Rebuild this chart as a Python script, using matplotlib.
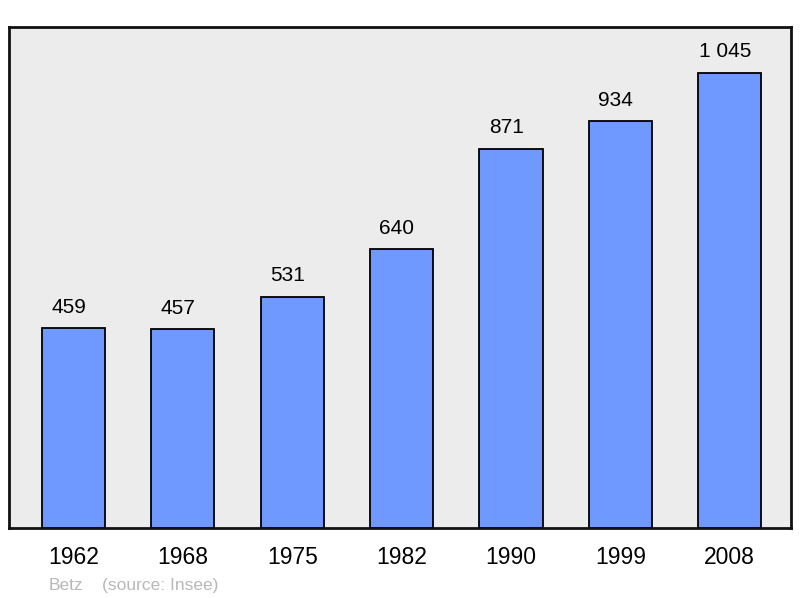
import matplotlib
matplotlib.use("Agg")
import matplotlib.pyplot as plt

plt.rcParams['font.family'] = ['Liberation Sans', 'DejaVu Sans']

years = ["1962", "1968", "1975", "1982", "1990", "1999", "2008"]
population = [459, 457, 531, 640, 871, 934, 1045]
value_labels = ["459", "457", "531", "640", "871", "934", "1 045"]

fig = plt.figure(figsize=(8, 5.98), dpi=100)
ax = fig.add_axes([9/800, 70/598, 782/800, 501/598])
ax.set_facecolor("#ececec")

xs = range(len(years))
ax.bar(xs, population, width=0.577, color="#7099ff", edgecolor="black", linewidth=1.3, zorder=2)

for x, v, lab in zip(xs, population, value_labels):
    ax.annotate(lab, (x, v), xytext=(-3.5, 11), textcoords="offset points",
                ha="center", va="baseline", fontsize=15, color="black")

ax.set_xlim(-0.59, 6.56)
ax.set_ylim(0, 1150)
ax.set_yticks([])
ax.set_xticks(list(xs))
ax.set_xticklabels(years, fontsize=16.5)
ax.tick_params(axis="x", length=0, pad=13)
for s in ax.spines.values():
    s.set_linewidth(2)
    s.set_color("#111111")

fig.text(49/800, 1 - 590/598, "Betz", fontsize=12.5, color="#b8b8b8", va="baseline")
fig.text(102/800, 1 - 590/598, "(source: Insee)", fontsize=12.5, color="#b8b8b8", va="baseline")

fig.savefig("out.png", dpi=100)
